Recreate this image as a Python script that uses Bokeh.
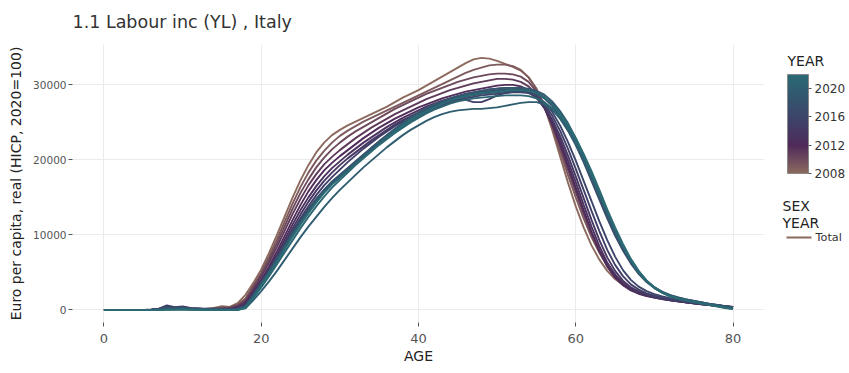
from bokeh.plotting import figure
from bokeh.layouts import row
from bokeh.models import ColorBar, LinearColorMapper, FixedTicker, Range1d
from bokeh.core.properties import value
from bokeh.embed import file_html
from bokeh.resources import INLINE

age = list(range(0, 81))

yl_2008 = [0,0,0,0,0,0,0,50,150,100,150,100,100,150,250,500,400,900,
           2000,3600,5400,7600,10000,12500,15000,17300,19300,21000,22300,23300,24000,24600,25100,25600,26100,26600,
           27100,27700,28300,28800,29300,29900,30500,31100,31700,32300,32900,33400,33600,33500,33200,32800,32400,31900,
           31000,29500,27200,24000,20500,17000,13800,11000,8600,6700,5200,4100,3300,2800,2400,2100,1900,1700,1500,1300,
           1150,1000,850,700,600,500,400]
yl_2009 = [0,0,0,0,0,0,0,0,100,150,100,50,50,100,150,300,350,700,
           1500,3200,5000,7100,9400,11800,14200,16400,18300,19900,21200,22300,23200,23900,24500,25100,25600,26100,
           26600,27100,27600,28100,28600,29100,29600,30100,30600,31100,31600,32000,32300,32600,32700,32700,32500,32000,
           31000,29400,27200,24400,21200,18000,15000,12200,9700,7600,5900,4600,3600,2900,2400,2100,1800,1600,1400,1250,
           1100,950,800,700,600,500,400]
yl_2010 = [0,0,0,0,0,0,0,50,200,100,200,100,100,100,150,200,250,550,
           1300,3000,4700,6700,8900,11200,13500,15600,17400,19000,20300,21400,22300,23100,23800,24400,25000,25600,
           26200,26800,27300,27800,28300,28800,29200,29600,30000,30400,30700,31000,31200,31400,31500,31500,31400,31100,
           30400,29100,27200,24700,21800,18700,15700,12800,10200,7900,6100,4700,3600,2900,2400,2000,1750,1550,1350,1200,
           1050,900,780,660,550,450,350]
yl_2011 = [0,0,0,0,0,0,0,100,300,150,250,150,100,100,100,150,200,450,
           1100,2700,4400,6300,8400,10600,12800,14800,16600,18100,19400,20400,21300,22100,22900,23600,24300,24900,
           25500,26100,26600,27100,27600,28100,28500,28900,29300,29600,29900,30200,30400,30600,30800,30800,30700,30400,
           29800,28700,27000,24700,22000,19000,16000,13000,10200,7800,5800,4400,3400,2700,2200,1900,1700,1500,1300,1150,
           1000,880,760,640,540,440,340]
yl_2012 = [0,0,0,0,0,0,50,150,400,250,300,200,150,100,100,150,150,350,
           900,2400,4000,5800,7800,9900,12000,14000,15800,17300,18600,19600,20500,21300,22100,22900,23600,24300,
           24900,25500,26000,26500,27000,27400,27800,28200,28500,28800,29100,29300,29500,29700,29900,30000,30000,29800,
           29300,28400,26900,24800,22200,19300,16300,13300,10400,7900,5800,4300,3300,2600,2150,1850,1650,1450,1280,1130,
           1000,870,750,630,530,430,330]
yl_2013 = [0,0,0,0,0,0,0,100,300,200,350,150,100,100,150,100,100,250,
           800,2200,3800,5500,7400,9400,11400,13300,15000,16500,17800,18900,19800,20700,21500,22300,23000,23700,
           24400,25000,25600,26100,26600,27100,27500,27900,28200,28500,28800,29000,29200,29400,29500,29600,29600,29500,
           29100,28300,27000,25100,22700,19900,17000,14000,11100,8500,6300,4700,3500,2700,2200,1900,1650,1450,1280,1130,
           1000,870,750,640,530,430,330]
yl_2014 = [0,0,0,0,0,0,0,100,500,300,400,200,150,100,100,100,100,200,
           700,2100,3700,5300,7100,9000,10900,12700,14400,15900,17200,18300,19300,20200,21000,21800,22600,23300,
           24000,24700,25300,25800,26300,26800,27200,27600,27900,28200,28500,28700,28900,29100,29200,29300,29300,29300,
           29000,28300,27100,25400,23200,20600,17800,14900,12000,9300,7000,5200,3900,3000,2400,2000,1700,1500,1320,1160,
           1020,890,770,650,540,440,340]
yl_2015 = [0,0,0,0,0,0,0,150,600,350,450,250,200,150,150,100,100,150,
           600,2000,3600,5200,6900,8700,10500,12200,13800,15300,16600,17700,18700,19700,20600,21500,22300,23100,
           23800,24500,25100,25700,26200,26700,27100,27500,27900,28100,28000,27700,27700,28100,28600,28900,29100,29200,
           29000,28400,27400,25900,23900,21500,18800,16000,13200,10500,8000,6000,4500,3400,2700,2200,1850,1600,1400,1220,
           1070,930,800,680,560,450,340]
yl_2016 = [0,0,0,0,0,0,0,100,400,250,350,200,150,100,100,100,50,100,
           550,2000,3600,5200,6900,8600,10300,11900,13400,14800,16000,17100,18000,18900,19800,20700,21600,22400,
           23200,23900,24600,25200,25800,26300,26800,27200,27600,27900,28200,28400,28600,28700,28800,28900,29000,29000,
           28900,28500,27700,26400,24600,22400,19900,17200,14500,11800,9300,7100,5300,4000,3100,2500,2100,1800,1550,1350,
           1180,1020,870,730,600,480,360]
yl_2017 = [0,0,0,0,0,0,0,100,350,200,300,150,100,100,100,50,50,100,
           500,2000,3600,5200,6900,8600,10300,11900,13300,14600,15800,16800,17700,18600,19500,20400,21300,22200,
           23000,23800,24600,25300,25900,26500,27000,27400,27800,28100,28400,28600,28800,28900,29000,29100,29200,29200,
           29100,28800,28200,27200,25800,24000,22000,19700,17200,14700,12200,9900,7900,6200,4800,3700,2900,2300,1900,1600,
           1400,1200,1000,800,650,500,350]
yl_2018 = [0,0,0,0,0,0,0,50,250,150,250,150,100,50,50,50,50,50,
           450,1900,3500,5100,6800,8500,10200,11800,13300,14700,16000,17100,18000,18900,19800,20700,21600,22500,
           23300,24100,24900,25600,26200,26800,27300,27700,28100,28400,28700,28900,29100,29200,29300,29400,29400,29400,
           29300,29000,28400,27500,26200,24500,22400,20100,17600,15100,12600,10200,8100,6300,4900,3800,3000,2400,1950,1650,
           1400,1200,1000,800,650,500,350]
yl_2019 = [0,0,0,0,0,0,0,50,200,150,200,100,100,50,50,50,0,50,
           400,1800,3400,5000,6700,8400,10100,11700,13200,14600,15900,17000,17900,18800,19700,20600,21500,22400,
           23300,24100,24900,25600,26300,26900,27400,27800,28200,28500,28800,29000,29200,29400,29500,29600,29600,29600,
           29500,29200,28700,27800,26500,24900,22900,20600,18100,15500,13000,10600,8400,6600,5100,3900,3000,2400,1950,1650,
           1400,1200,1000,800,620,460,300]
yl_2020 = [0,0,0,0,0,0,0,0,100,100,150,100,50,50,0,0,0,0,
           200,1300,2500,3800,5200,6700,8200,9700,11100,12400,13700,14900,16000,17000,18000,19000,19900,20800,
           21700,22500,23300,24000,24600,25200,25700,26100,26400,26600,26700,26800,26800,26900,27000,27200,27400,27600,
           27700,27700,27400,26700,25500,23900,22000,19900,17600,15200,12800,10500,8400,6600,5100,3900,3000,2300,1800,1500,
           1300,1100,900,700,500,300,150]
yl_2021 = [0,0,0,0,0,0,0,0,50,50,100,50,50,0,0,0,0,0,
           300,1600,3000,4500,6100,7700,9300,10900,12400,13800,15100,16300,17300,18300,19300,20200,21100,22000,
           22800,23600,24300,25000,25600,26200,26700,27100,27500,27800,28000,28200,28300,28400,28500,28600,28600,28600,
           28500,28200,27700,26900,25800,24300,22500,20400,18100,15600,13100,10700,8500,6600,5000,3800,2900,2300,1850,1550,
           1300,1100,900,700,500,300,150]
yl_2022 = [0,0,0,0,0,0,0,0,0,0,50,0,0,0,0,0,0,0,
           350,1700,3200,4800,6400,8100,9800,11400,12900,14300,15600,16700,17600,18500,19400,20300,21200,22100,
           23000,23800,24600,25300,25900,26500,27000,27500,27900,28200,28500,28700,28900,29000,29100,29200,29300,29300,
           29200,28900,28300,27400,26200,24700,22900,20800,18500,16000,13400,11000,8800,6800,5200,3900,3000,2300,1800,1500,
           1250,1050,850,650,450,250,100]

years = [2008, 2009, 2010, 2011, 2012, 2013, 2014, 2015, 2016, 2017, 2018, 2019, 2020, 2021, 2022]
series = [yl_2008, yl_2009, yl_2010, yl_2011, yl_2012, yl_2013, yl_2014, yl_2015,
          yl_2016, yl_2017, yl_2018, yl_2019, yl_2020, yl_2021, yl_2022]
x_ticks = [0, 20, 40, 60, 80]
y_ticks = [0, 10000, 20000, 30000]
color_ticks = [2008, 2012, 2016, 2020]
legend_label = "Total"
title_text = "1.1 Labour inc (YL) , Italy"

# colour scale (style)
stops = [(0.0, (140, 106, 94)), (0.28, (80, 43, 90)), (0.55, (62, 67, 107)),
         (0.8, (50, 89, 111)), (1.0, (42, 107, 116))]

def scale_color(t):
    for (t0, c0), (t1, c1) in zip(stops[:-1], stops[1:]):
        if t <= t1:
            f = (t - t0) / (t1 - t0) if t1 > t0 else 0
            c = [round(a + (b - a) * f) for a, b in zip(c0, c1)]
            return "#%02x%02x%02x" % tuple(c)
    return "#%02x%02x%02x" % stops[-1][1]

palette = [scale_color(i / 255) for i in range(256)]
ymin, ymax = years[0], years[-1]

FONT = "DejaVu Sans"
W, H = 849, 373
LEFT, TOP, FW, FH, RIGHT = 72, 44, 692, 278, 10
BOTTOM = H - TOP - FH
MAIN_W = LEFT + FW + RIGHT

p = figure(frame_width=FW, frame_height=FH, output_backend="svg", toolbar_location=None,
           x_range=Range1d(-4, 84), y_range=Range1d(-1685, 35385),
           min_border_left=LEFT, min_border_right=RIGHT, min_border_top=TOP,
           min_border_bottom=BOTTOM)

p.title.text = title_text
p.title.text_font = FONT
p.title.text_font_size = "17.5px"
p.title.text_font_style = "normal"
p.title.text_color = "#333333"
p.title.align = "left"
p.title.offset = 0
p.title.standoff = 21
p.title.vertical_align = "top"

p.outline_line_color = None
p.background_fill_color = "white"
p.border_fill_color = "white"

for ax in (p.xaxis[0], p.yaxis[0]):
    ax.axis_line_color = None
    ax.major_tick_line_color = "#555555"
    ax.major_tick_in = 0
    ax.major_tick_out = 4
    ax.minor_tick_line_color = None
    ax.major_label_text_font = FONT
    ax.major_label_text_color = "#555555"
    ax.axis_label_text_font = FONT
    ax.axis_label_text_font_style = "normal"
    ax.axis_label_text_color = "#222222"
    ax.axis_label_text_font_size = "14px"

p.xaxis.ticker = FixedTicker(ticks=x_ticks)
p.yaxis.ticker = FixedTicker(ticks=y_ticks)
p.xaxis.major_label_text_font_size = "13px"
p.yaxis.major_label_text_font_size = "10.5px"
p.xaxis.axis_label = "AGE"
p.yaxis.axis_label = "Euro per capita, real (HICP, 2020=100)"
p.xaxis.major_label_standoff = 7
p.yaxis.major_label_standoff = 2
p.xaxis.axis_label_standoff = 2
p.yaxis.axis_label_standoff = 6

p.xgrid.grid_line_color = "#ebebeb"
p.ygrid.grid_line_color = "#ebebeb"
p.xgrid.grid_line_width = 1
p.ygrid.grid_line_width = 1

colors = {}
for yr, vals in zip(years, series):
    col = scale_color((yr - ymin) / (ymax - ymin))
    colors[yr] = col
    p.line(age, vals, line_color=col, line_width=1.9)

# ---- side panel with colour bar and legend (pixel coordinates, y downward)
SW = W - MAIN_W
s = figure(frame_width=SW, frame_height=FH, output_backend="svg", toolbar_location=None,
           x_range=Range1d(MAIN_W, W), y_range=Range1d(TOP + FH, TOP),
           x_axis_type=None, y_axis_type=None,
           min_border_left=0, min_border_right=0, min_border_top=TOP, min_border_bottom=BOTTOM)
s.outline_line_color = None
s.xgrid.visible = False
s.ygrid.visible = False
s.border_fill_color = "white"
s.background_fill_color = "white"

s.text(x=[787], y=[60], text=["YEAR"], text_font=value(FONT), text_font_size="14px",
       text_color="#222222", text_baseline="middle", text_align="left")
s.text(x=[782, 782], y=[205, 222], text=["SEX", "YEAR"], text_font=value(FONT),
       text_font_size="14px", text_color="#222222", text_baseline="middle", text_align="left")
s.line(x=[786, 811], y=[237, 237], line_color=colors[2008], line_width=2)
s.text(x=[815], y=[237], text=[legend_label], text_font=value(FONT), text_font_size="11.3px",
       text_color="#333333", text_baseline="middle", text_align="left")

mapper = LinearColorMapper(palette=palette, low=ymin, high=ymax)
cb = ColorBar(color_mapper=mapper, ticker=FixedTicker(ticks=color_ticks),
              width=21, height=99,
              major_label_text_font=FONT, major_label_text_font_size="12px",
              major_label_text_color="#333333", major_tick_in=0, major_tick_out=3,
              major_tick_line_color="#555555", label_standoff=3,
              bar_line_color="#888888", padding=0, margin=0,
              background_fill_alpha=0, border_line_color=None,
              location=(787 - MAIN_W, TOP + FH - 173))
s.add_layout(cb)

layout = row(p, s)
open("out.html", "w").write(file_html(layout, INLINE))
